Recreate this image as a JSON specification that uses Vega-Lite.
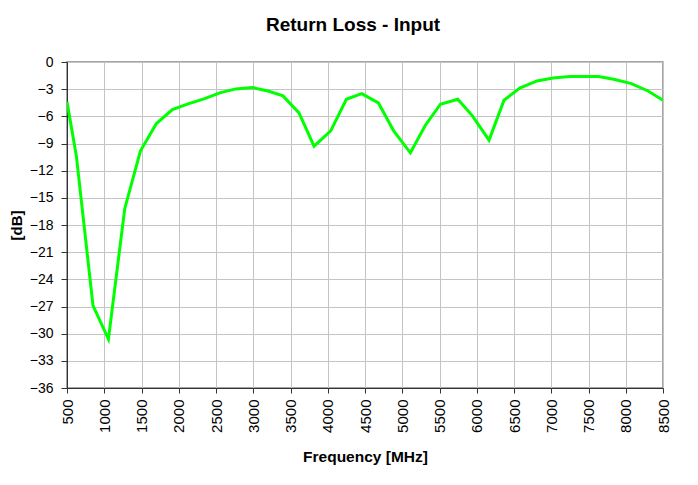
{
  "$schema": "https://vega.github.io/schema/vega-lite/v6.json",
  "width": 596,
  "height": 326,
  "autosize": {"type": "none"},
  "padding": {"left": 67, "top": 62, "right": 35, "bottom": 97},
  "background": "white",
  "title": {
    "text": "Return Loss - Input",
    "font": "Liberation Sans",
    "fontSize": 19,
    "fontWeight": "bold",
    "color": "black",
    "anchor": "middle",
    "dx": -12,
    "offset": 20
  },
  "data": {
    "values": [
      {"freq": 500, "db": -4.4},
      {"freq": 626, "db": -10.4},
      {"freq": 849, "db": -26.9},
      {"freq": 1056, "db": -30.6},
      {"freq": 1275, "db": -16.2},
      {"freq": 1485, "db": -9.84},
      {"freq": 1700, "db": -6.8},
      {"freq": 1915, "db": -5.25},
      {"freq": 2125, "db": -4.63},
      {"freq": 2348, "db": -4.04},
      {"freq": 2550, "db": -3.41},
      {"freq": 2765, "db": -2.97},
      {"freq": 2988, "db": -2.83},
      {"freq": 3198, "db": -3.2},
      {"freq": 3399, "db": -3.74},
      {"freq": 3614, "db": -5.62},
      {"freq": 3816, "db": -9.29},
      {"freq": 4040, "db": -7.6},
      {"freq": 4250, "db": -4.11},
      {"freq": 4456, "db": -3.49},
      {"freq": 4680, "db": -4.52},
      {"freq": 4885, "db": -7.6},
      {"freq": 5109, "db": -10.03},
      {"freq": 5311, "db": -6.98},
      {"freq": 5512, "db": -4.66},
      {"freq": 5745, "db": -4.11},
      {"freq": 5942, "db": -5.95},
      {"freq": 6165, "db": -8.63},
      {"freq": 6366, "db": -4.22},
      {"freq": 6577, "db": -2.87},
      {"freq": 6809, "db": -2.09},
      {"freq": 7024, "db": -1.76},
      {"freq": 7248, "db": -1.61},
      {"freq": 7472, "db": -1.61},
      {"freq": 7637, "db": -1.61},
      {"freq": 7852, "db": -1.94},
      {"freq": 8076, "db": -2.38},
      {"freq": 8299, "db": -3.2},
      {"freq": 8500, "db": -4.22}
    ]
  },
  "mark": {"type": "line", "color": "#00ff00", "strokeWidth": 3, "clip": true},
  "encoding": {
    "x": {
      "field": "freq",
      "type": "quantitative",
      "scale": {"domain": [500, 8500], "nice": false, "zero": false},
      "axis": {
        "title": "Frequency [MHz]",
        "values": [500, 1000, 1500, 2000, 2500, 3000, 3500, 4000, 4500, 5000, 5500, 6000, 6500, 7000, 7500, 8000, 8500],
        "format": "d",
        "labelAngle": -90,
        "labelFontSize": 15,
        "labelFont": "Liberation Sans",
        "labelColor": "black",
        "labelPadding": 6,
        "labelOverlap": false,
        "labelFlush": false,
        "tickSize": 5,
        "tickColor": "#333",
        "domainColor": "#333",
        "gridColor": "#c4c4c4",
        "titleFont": "Liberation Sans",
        "titleFontSize": 15.5,
        "titleFontWeight": "bold",
        "titleColor": "black",
        "titlePadding": 17
      }
    },
    "y": {
      "field": "db",
      "type": "quantitative",
      "scale": {"domain": [-36, 0], "nice": false, "zero": false},
      "axis": {
        "title": "[dB]",
        "values": [-36, -33, -30, -27, -24, -21, -18, -15, -12, -9, -6, -3, 0],
        "labelFontSize": 14,
        "labelFont": "Liberation Sans",
        "labelColor": "black",
        "labelPadding": 8,
        "labelOverlap": false,
        "labelFlush": false,
        "tickSize": 6,
        "tickColor": "#333",
        "domainColor": "#333",
        "gridColor": "#c4c4c4",
        "titleFont": "Liberation Sans",
        "titleFontSize": 15,
        "titleFontWeight": "bold",
        "titleColor": "black",
        "titlePadding": 5
      }
    }
  },
  "config": {
    "view": {"stroke": "#888", "strokeWidth": 1.5}
  }
}
